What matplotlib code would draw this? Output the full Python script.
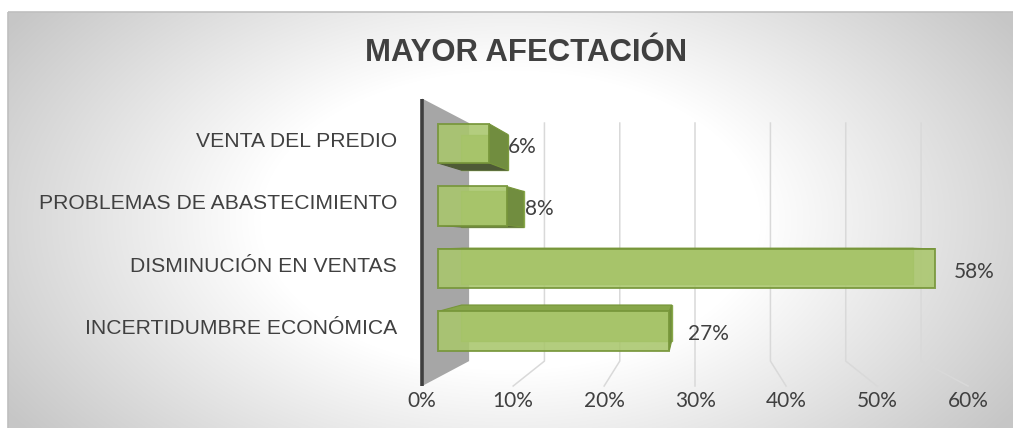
import numpy as np
import matplotlib
matplotlib.use("Agg")
import matplotlib.pyplot as plt
from matplotlib.patches import Polygon, Rectangle

# data
categories = ["INCERTIDUMBRE ECONÓMICA", "DISMINUCIÓN EN VENTAS",
              "PROBLEMAS DE ABASTECIMIENTO", "VENTA DEL PREDIO"]
values = [27, 58, 8, 6]
tick_values = [0, 10, 20, 30, 40, 50, 60]
tick_labels = ["0%", "10%", "20%", "30%", "40%", "50%", "60%"]
title = "MAYOR AFECTACIÓN"

# perspective settings (front plane = data coords of the axes)
VX, VY = 30.0, 1.44          # vanishing point
Z_WALL, Z_BACK, Z_FRONT, Z_FLOOR = 0.879, 0.909, 1.0, 1.0615
Y_FLOOR, Y_TOP = -0.746, 3.587
H = 0.3125                   # half bar height

TXT = "#404040"
NUM_FONT = "Lato"
CAT_FONT = "Liberation Sans"


def proj(v, y, z):
    return (VX + z * (v - VX), VY + z * (y - VY))


W, Hpx = 1013, 428
fig = plt.figure(figsize=(W / 100, Hpx / 100), dpi=100)

# background: radial gray gradient + chart border
bg = fig.add_axes([0, 0, 1, 1])
xx, yy = np.meshgrid(np.arange(W), np.arange(Hpx))
r = np.sqrt(((xx - 510) / 500.0) ** 2 + ((yy - 220) / 300.0) ** 2)
shade = 255 - 57 * np.clip((r - 0.5) / 0.7, 0, 1)
shade = shade / 255.0
img = np.dstack([shade, shade, shade])
img[:12, :, :] = 1.0
img[:, :8, :] = 1.0
bg.imshow(img, extent=(0, W, Hpx, 0), aspect="auto", interpolation="bilinear")
bg.add_patch(Rectangle((8, 12), W + 40, Hpx + 40, fill=False, edgecolor="#bfbfbf", lw=1.2))
bg.set_xlim(0, W)
bg.set_ylim(Hpx, 0)
bg.axis("off")

# main axes: x 0..60 -> px 438..952, y -1..4 -> px 393.5..81
left, right = 438, 438 + 8.57 * 60
top, bottom = 81, 393.5
ax = fig.add_axes([left / W, (Hpx - bottom) / Hpx, (right - left) / W, (bottom - top) / Hpx])
ax.set_xlim(0, 60)
ax.set_ylim(-1, 4)
ax.axis("off")
ax.patch.set_alpha(0)

# left wall
wall = [proj(0, Y_FLOOR, Z_WALL), proj(0, Y_TOP, Z_WALL),
        proj(0, Y_TOP, Z_FLOOR), proj(0, Y_FLOOR, Z_FLOOR)]
ax.add_patch(Polygon(wall, closed=True, facecolor="#a6a6a6", edgecolor="none",
                     zorder=1, clip_on=False))
p0, p1 = proj(0, Y_FLOOR, Z_FLOOR), proj(0, Y_TOP, Z_FLOOR)
ax.plot([p0[0], p1[0]], [p0[1], p1[1]], color="#3f3f3f", lw=2.6,
        solid_capstyle="butt", zorder=2, clip_on=False)

# gridlines on back wall and floor
for t in tick_values[1:]:
    a = proj(t, Y_TOP, Z_WALL)
    b = proj(t, Y_FLOOR, Z_WALL)
    c = proj(t, Y_FLOOR, Z_FLOOR)
    ax.plot([a[0], b[0], c[0]], [a[1], b[1], c[1]], color="#d9d9d9", lw=1.1,
            zorder=1, clip_on=False)

# tick labels at floor front
for t, lab in zip(tick_values, tick_labels):
    x, y = proj(t, Y_FLOOR, Z_FLOOR)
    ax.annotate(lab, (x, y), xytext=(0, -10.5), textcoords="offset points",
                ha="center", va="center", fontsize=15, color=TXT,
                family=NUM_FONT, annotation_clip=False)

ypos = np.arange(len(categories))
front_col = "#a9c66c"
edge_col = "#77963a"
for yi, v in zip(ypos, values):
    y0, y1 = yi - H, yi + H
    # back outline (seen through the translucent front)
    back = [proj(0, y0, Z_BACK), proj(v, y0, Z_BACK), proj(v, y1, Z_BACK), proj(0, y1, Z_BACK)]
    ax.add_patch(Polygon(back, closed=True, facecolor="#9ab85e", edgecolor="#8fae52",
                         lw=1.0, zorder=2, clip_on=False))
    if y0 > VY:
        bot = [proj(0, y0, Z_FRONT), proj(v, y0, Z_FRONT), proj(v, y0, Z_BACK), proj(0, y0, Z_BACK)]
        ax.add_patch(Polygon(bot, closed=True, facecolor="#4e5a36", edgecolor="#4e5a36",
                             lw=0.8, zorder=3, clip_on=False))
    if y1 < VY:
        tp = [proj(0, y1, Z_FRONT), proj(v, y1, Z_FRONT), proj(v, y1, Z_BACK), proj(0, y1, Z_BACK)]
        ax.add_patch(Polygon(tp, closed=True, facecolor="#87a64a", edgecolor=edge_col,
                             lw=0.8, zorder=3, clip_on=False))
    if v < VX:
        sd = [proj(v, y0, Z_FRONT), proj(v, y1, Z_FRONT), proj(v, y1, Z_BACK), proj(v, y0, Z_BACK)]
        ax.add_patch(Polygon(sd, closed=True, facecolor="#718d3f", edgecolor=edge_col,
                             lw=0.8, zorder=3, clip_on=False))

ax.barh(ypos, values, height=2 * H, left=0, color=front_col, alpha=0.88,
        edgecolor=edge_col, linewidth=1.4, zorder=4, clip_on=False)

# data labels
for yi, v in zip(ypos, values):
    ax.annotate(f"{v}%", (v, yi), xytext=(13.5, -2.5), textcoords="offset points",
                ha="left", va="center", fontsize=15, color=TXT, family=NUM_FONT,
                zorder=6, annotation_clip=False)

# category labels
for yi, cat in zip(ypos, categories):
    x, _ = proj(0, yi, Z_FLOOR)
    ax.annotate(cat, (x, yi), xytext=(-18, 1.5), textcoords="offset points",
                ha="right", va="center", fontsize=15.2, color=TXT, family=CAT_FONT,
                annotation_clip=False)

fig.text(526 / W, 1 - 53 / Hpx, title, ha="center", va="center", fontsize=22.4,
         fontweight="bold", color=TXT, family=CAT_FONT)

fig.savefig("out.png", dpi=100)
